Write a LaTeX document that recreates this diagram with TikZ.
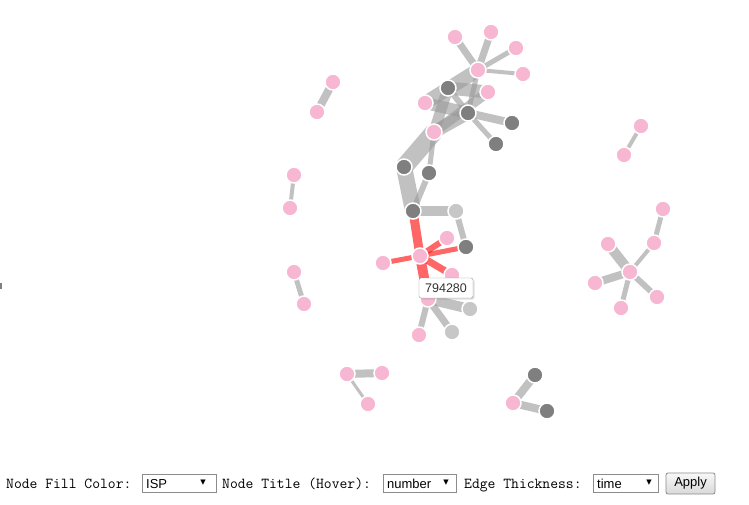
\documentclass[tikz,border=0pt]{standalone}
\usepackage{fontspec}
\newfontfamily\uisans{Liberation Sans}
\newfontfamily\symfont{DejaVu Sans}
\usetikzlibrary{shadows}
\definecolor{npink}{HTML}{F7B6D2}
\definecolor{ndark}{HTML}{7F7F7F}
\definecolor{nlight}{HTML}{C7C7C7}
\definecolor{egray}{HTML}{999999}
\definecolor{ered}{HTML}{FF0000}
\pgfdeclarelayer{bg}
\pgfdeclarelayer{edges}
\pgfsetlayers{bg,edges,main}
\begin{document}
\begin{tikzpicture}[x=1pt,y=-1pt,
  gnode/.style={circle,inner sep=0pt,minimum size=16pt,draw=white,line width=1.5pt},
  pinknode/.style={gnode,fill=npink},
  darknode/.style={gnode,fill=ndark},
  lightnode/.style={gnode,fill=nlight},
  edge/.style={draw=egray,draw opacity=0.6,line cap=butt},
  rededge/.style={draw=ered,draw opacity=0.6,line cap=butt},
  lbl/.style={font=\fontsize{15.2}{18}\ttfamily,anchor=base west,inner sep=0pt,text=black},
  selbox/.style={draw=black!45,fill=white,line width=0.8pt,anchor=north west,minimum height=18pt,inner sep=0pt},
  seltext/.style={font=\uisans\fontsize{13}{15}\selectfont,anchor=base west,inner sep=0pt},
  seltri/.style={font=\symfont\fontsize{7}{8}\selectfont,inner sep=0pt},
]
\begin{pgfonlayer}{bg}
\fill[white] (0,0) rectangle (749,505);
\end{pgfonlayer}
\useasboundingbox (0,0) rectangle (749,505);

% main cluster nodes
\node[pinknode] (P1) at (455,37) {};
\node[pinknode] (P2) at (491,32) {};
\node[pinknode] (P3) at (516,48) {};
\node[pinknode] (P4) at (523,74) {};
\node[pinknode] (H1) at (478,70) {};
\node[darknode] (D1) at (448,88) {};
\node[pinknode] (P5) at (488,92) {};
\node[pinknode] (P6) at (425,103) {};
\node[darknode] (D2) at (468,113) {};
\node[darknode] (D3) at (512,123) {};
\node[darknode] (D4) at (496,144) {};
\node[pinknode] (P7) at (434,132) {};
\node[darknode] (D5) at (404,167) {};
\node[darknode] (D6) at (429,173) {};
\node[darknode] (D7) at (413,211) {};
\node[lightnode] (L1) at (456,211) {};
\node[pinknode] (P8) at (447,238) {};
\node[darknode] (D8) at (466,247) {};
\node[pinknode] (R) at (420,256) {};
\node[pinknode] (P9) at (383,263) {};
\node[pinknode] (P10) at (452,275) {};
\node[pinknode] (P11) at (428,299) {};
\node[lightnode] (L2) at (470,309) {};
\node[pinknode] (P12) at (419,335) {};
\node[lightnode] (L3) at (452,332) {};

% small groups
\node[pinknode] (A1) at (333,82) {};
\node[pinknode] (A2) at (317,112) {};
\node[pinknode] (B1) at (294,175) {};
\node[pinknode] (B2) at (290,208) {};
\node[pinknode] (C1) at (294,272) {};
\node[pinknode] (C2) at (304,304) {};
\node[pinknode] (E1) at (641,126) {};
\node[pinknode] (E2) at (624,155) {};
\node[pinknode] (F0) at (630,272) {};
\node[pinknode] (F1) at (663,209) {};
\node[pinknode] (F2) at (654,243) {};
\node[pinknode] (F3) at (608,244) {};
\node[pinknode] (F4) at (595,283) {};
\node[pinknode] (F5) at (621,308) {};
\node[pinknode] (F6) at (657,297) {};
\node[pinknode] (G1) at (347,374) {};
\node[pinknode] (G2) at (382,373) {};
\node[pinknode] (G3) at (368,404) {};
\node[pinknode] (K1) at (513,403) {};
\node[darknode] (K2) at (535,375) {};
\node[darknode] (K3) at (547,411) {};

\begin{pgfonlayer}{edges}
% top cluster
\draw[edge,line width=7pt] (H1.center) -- (P1.center);
\draw[edge,line width=7pt] (H1.center) -- (P2.center);
\draw[edge,line width=5pt] (H1.center) -- (P3.center);
\draw[edge,line width=4pt] (H1.center) -- (P4.center);
\draw[edge,line width=5pt] (H1.center) -- (D2.center);
\draw[edge,line width=14pt] (H1.center) -- (P6.center);
\draw[edge,line width=13pt] (D1.center) -- (P5.center);
\draw[edge,line width=11pt] (D1.center) -- (P7.center);
\draw[edge,line width=6pt] (D1.center) -- (D2.center);
\draw[edge,line width=12pt] (P6.center) -- (D2.center);
\draw[edge,line width=10pt] (P5.center) -- (P7.center);
\draw[edge,line width=13pt] (P7.center) -- (D2.center);
\draw[edge,line width=8pt] (D2.center) -- (D3.center);
\draw[edge,line width=5pt] (D2.center) -- (D4.center);
\draw[edge,line width=18pt] (D5.center) -- (P7.center);
\draw[edge,line width=16pt] (D5.center) -- (D7.center);
\draw[edge,line width=5pt] (P7.center) -- (D6.center);
\draw[edge,line width=6pt] (D6.center) -- (D7.center);
\draw[edge,line width=10pt] (D7.center) -- (L1.center);
\draw[edge,line width=6pt] (L1.center) -- (D8.center);
\draw[rededge,line width=9pt] (D7.center) -- (R.center);
\draw[rededge,line width=6pt] (R.center) -- (P8.center);
\draw[rededge,line width=5pt] (R.center) -- (D8.center);
\draw[rededge,line width=5pt] (R.center) -- (P9.center);
\draw[rededge,line width=7pt] (R.center) -- (P10.center);
\draw[rededge,line width=10pt] (R.center) -- (P11.center);
\draw[edge,line width=10pt] (P11.center) -- (L2.center);
\draw[edge,line width=6pt] (P11.center) -- (P12.center);
\draw[edge,line width=7pt] (P11.center) -- (L3.center);
% small groups
\draw[edge,line width=8pt] (A1.center) -- (A2.center);
\draw[edge,line width=4pt] (B1.center) -- (B2.center);
\draw[edge,line width=5pt] (C1.center) -- (C2.center);
\draw[edge,line width=4pt] (E1.center) -- (E2.center);
\draw[edge,line width=10pt] (F0.center) -- (F3.center);
\draw[edge,line width=8pt] (F0.center) -- (F4.center);
\draw[edge,line width=5pt] (F0.center) -- (F5.center);
\draw[edge,line width=6pt] (F0.center) -- (F6.center);
\draw[edge,line width=4pt] (F0.center) -- (F2.center);
\draw[edge,line width=5pt] (F2.center) -- (F1.center);
\draw[edge,line width=8pt] (G1.center) -- (G2.center);
\draw[edge,line width=3pt] (G1.center) -- (G3.center);
\draw[edge,line width=8pt] (K1.center) -- (K2.center);
\draw[edge,line width=8pt] (K1.center) -- (K3.center);
\end{pgfonlayer}

% left edge mark
\draw[ndark,line width=1.5pt] (0.75,283) -- (0.75,289);

% tooltip
\node[draw=black!40,fill=white,rounded corners=2pt,minimum width=54pt,minimum height=20pt,inner sep=0pt,
  drop shadow={shadow xshift=1.5pt,shadow yshift=-1.5pt,opacity=0.25},
  font=\uisans\fontsize{12.5}{14}\selectfont,text=black!80] (tip) at (446,288) {794280};

% controls
\node[lbl] (l1) at (6,488) {Node Fill Color:};
\node[selbox,minimum width=74pt] (s1) at (142,474) {};
\node[seltext] (s1t) at (146,488) {ISP};
\node[seltri] (s1a) at (203,483) {▼};
\node[lbl] (l2) at (222,488) {Node Title (Hover):};
\node[selbox,minimum width=73pt] (s2) at (383,474) {};
\node[seltext] (s2t) at (387,488) {number};
\node[seltri] (s2a) at (446,483) {▼};
\node[lbl] (l3) at (464,488) {Edge Thickness:};
\node[selbox,minimum width=65pt] (s3) at (593,474) {};
\node[seltext] (s3t) at (597,488) {time};
\node[seltri] (s3a) at (649,483) {▼};
\node[draw=black!45,top color=black!3,bottom color=black!15,rounded corners=2pt,line width=0.8pt,
  minimum width=49pt,minimum height=21pt,inner sep=0pt,font=\uisans\fontsize{13}{15}\selectfont] (btn) at (690.5,483.5) {Apply};
\end{tikzpicture}
\end{document}
